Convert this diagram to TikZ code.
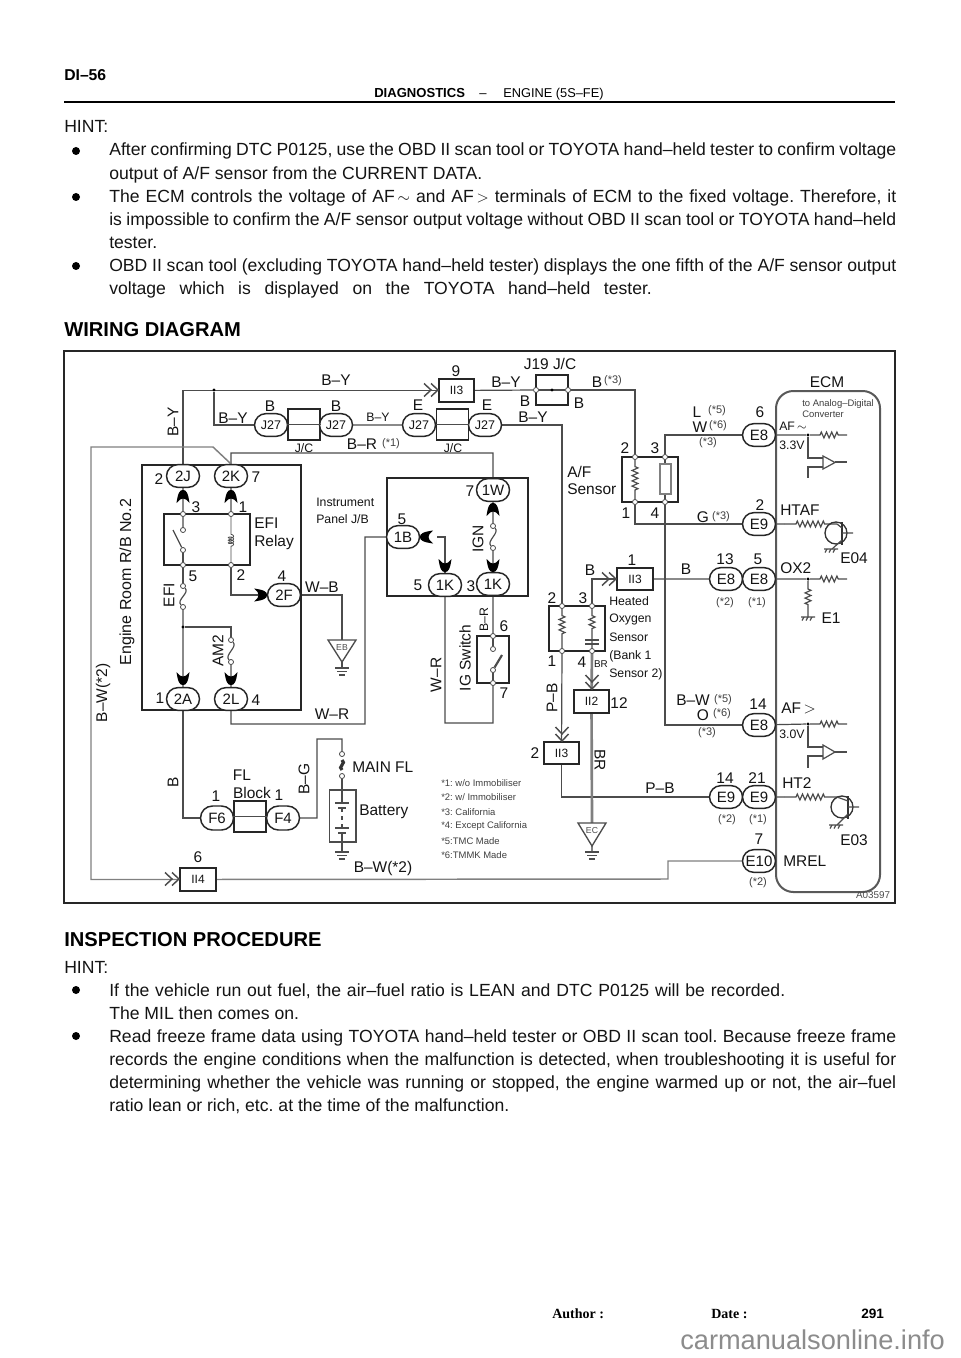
\documentclass[tikz,border=0pt]{standalone}
\usepackage{fontspec}
\setmainfont{Liberation Sans}
\newfontfamily\tms{Liberation Serif}
\usetikzlibrary{shapes.misc,decorations.pathmorphing,calc}
\pgfdeclarelayer{bg}
\pgfsetlayers{bg,main}
\definecolor{wg}{gray}{0.3}
\definecolor{gw}{gray}{0.5}
\definecolor{tx}{gray}{0.08}
\frenchspacing
\newcommand\fp[1]{\fontsize{#1}{#1}\selectfont}
\newcounter{lc}
\newcommand\lab[3][]{\stepcounter{lc}\node[lb,#1] (t\thelc) at (#2) {#3};}
\newcommand\bodyl[3][]{\stepcounter{lc}\node[bt,#1] (t\thelc) at (109,#2) {#3};}
\newcommand\bodyj[3]{\stepcounter{lc}\node[bt] (t\thelc) at (109,#1) {\makebox[#2][s]{#3}};}
\newcommand\blt[1]{\stepcounter{lc}\node[bullt] (t\thelc) at (76,#1) {};}
\newcommand\ctip[3]{\fill[black,shift={(#1,#2)},rotate=#3,line join=round] (0,-7) .. controls (3,-7) and (5,-5) .. (6.5,6) -- (3,2.5) -- (0,1.5) -- (-3,2.5) -- (-6.5,6) .. controls (-5,-5) and (-3,-7) .. (0,-7) -- cycle;}
\newcommand\chev[3]{\draw[chv,shift={(#1,#2)},rotate=#3] (-15,-6.5) -- (-8,0) -- (-15,6.5) (-8,-6.5) -- (-1,0) -- (-8,6.5);}
\newcommand\rake[2]{\draw[wire] ({#1-7},#2) -- ({#1+7},#2) ({#1-4},#2) -- ({#1-6},{#2+3.5}) (#1,#2) -- ({#1-2},{#2+3.5}) ({#1+4},#2) -- ({#1+2},{#2+3.5});}
\newcommand\gbars[2]{\draw[wire,line width=1pt] ({#1-7},#2) -- ({#1+7},#2) ({#1-5},{#2+3.5}) -- ({#1+5},{#2+3.5}) ({#1-3},{#2+7}) -- ({#1+3},{#2+7});}
\newcommand\fuse[2]{\draw[wire] (#1) .. controls ($(#1)+(7,7)$) and ($(#2)+(-7,-7)$) .. (#2);}
\tikzset{
  lb/.style={inner sep=0pt,text=tx,font=\fp{11.6}},
  sm/.style={font=\fp{8.25},text=black!75},
  tn/.style={font=\fp{9.2}},
  nt/.style={font=\fp{7.1},anchor=west,text=black!75},
  bt/.style={inner sep=0pt,anchor=base west,text=tx,font=\fp{13.2}},
  hd/.style={inner sep=0pt,anchor=base west,text=black,font=\fp{15.1}\bfseries},
  bullt/.style={circle,fill=black,inner sep=0pt,minimum size=6pt},
  wire/.style={draw=wg,line width=0.9pt},
  gwire/.style={draw=gw,line width=1.1pt},
  thw/.style={draw=gw,line width=2pt},
  bx/.style={draw=black!85,line width=1.3pt},
  pill/.style={rounded rectangle,draw=black!85,fill=white,line width=1.1pt,minimum width=24.75pt,minimum height=17pt,inner sep=0pt,text=tx,font=\fp{11.25}},
  pills/.style={pill,font=\fp{9.4}},
  ibox/.style={rectangle,draw=black!85,fill=white,line width=1.3pt,minimum width=26.5pt,minimum height=17pt,inner sep=0pt,text=tx,font=\fp{9}},
  jcb/.style={rectangle,draw=black!85,fill=white,line width=1.3pt,minimum width=24pt,minimum height=23.3pt,inner sep=0pt},
  term/.style={circle,draw=wg,fill=white,line width=0.6pt,minimum size=3.8pt,inner sep=0pt},
  jdot/.style={circle,fill=black,minimum size=2.6pt,inner sep=0pt},
  chv/.style={draw=wg,line width=1.1pt},
  zz/.style 2 args={decorate,decoration={zigzag,amplitude=2.2pt,segment length=3.9pt,pre=lineto,pre length=#1,post=lineto,post length=#2}},
  coilz/.style={decorate,decoration={coil,amplitude=2pt,segment length=2pt,aspect=0.5,pre=lineto,pre length=13pt,post=lineto,post length=11pt}},
}
\begin{document}
\begin{tikzpicture}[x=0.75pt,y=-0.75pt]
\useasboundingbox (0,0) rectangle (960,1358);
\begin{pgfonlayer}{bg}
\fill[white] (0,0) rectangle (960,1358);
\end{pgfonlayer}
% ---------- page text
\node[hd,font=\fp{11.8}\bfseries] (hdi) at (64,81) {DI–56};
\node[inner sep=0pt,anchor=base west,font=\fp{9.8}\bfseries] (hdiag) at (374,98) {DIAGNOSTICS};
\node[inner sep=0pt,anchor=base,font=\fp{9.8}] (hdash) at (483,98) {–};
\node[inner sep=0pt,anchor=base west,font=\fp{9.6}] (heng) at (503,98) {ENGINE (5S–FE)};
\draw[line width=1.1pt] (64,102) -- (895,102);
\node[bt] (hint1) at (64,133) {HINT:};
\blt{151}\bodyj{156}{590.25pt}{After confirming DTC P0125, use the OBD II scan tool or TOYOTA hand–held tester to confirm voltage}
\bodyl{179.1}{output of A/F sensor from the CURRENT DATA.}
\blt{197}\bodyj{202.2}{590.25pt}{The ECM controls the voltage of AF$\,\sim$ and AF$\,>$ terminals of ECM to the fixed voltage. Therefore, it}
\bodyj{225.3}{590.25pt}{is impossible to confirm the A/F sensor output voltage without OBD II scan tool or TOYOTA hand–held}
\bodyl{248.4}{tester.}
\blt{266}\bodyj{271.5}{590.25pt}{OBD II scan tool (excluding TOYOTA hand–held tester) displays the one fifth of the A/F sensor output}
\bodyj{294.6}{407pt}{voltage which is displayed on the TOYOTA hand–held tester.}
\node[hd] (hwd) at (64,337) {WIRING DIAGRAM};
\node[hd] (hinsp) at (64,946) {INSPECTION PROCEDURE};
\node[bt] (hint2) at (64,973) {HINT:};
\blt{990}\bodyj{996}{507pt}{If the vehicle run out fuel, the air–fuel ratio is LEAN and DTC P0125 will be recorded.}
\bodyl{1019}{The MIL then comes on.}
\blt{1036}\bodyj{1042}{590.25pt}{Read freeze frame data using TOYOTA hand–held tester or OBD II scan tool. Because freeze frame}
\bodyj{1065}{590.25pt}{records the engine conditions when the malfunction is detected, when troubleshooting it is useful for}
\bodyj{1088}{590.25pt}{determining whether the vehicle was running or stopped, the engine warmed up or not, the air–fuel}
\bodyl{1111}{ratio lean or rich, etc. at the time of the malfunction.}
\node[inner sep=0pt,anchor=base west,font=\tms\fp{10.5}\bfseries] (fa) at (552,1318) {Author :};
\node[inner sep=0pt,anchor=base west,font=\tms\fp{10.5}\bfseries] (fd) at (711,1318) {Date :};
\node[inner sep=0pt,anchor=base west,font=\fp{10.2}\bfseries] (fp) at (861,1318) {291};
\node[inner sep=0pt,anchor=base west,font=\fp{20.4},text=black!45] (wm) at (680,1349) {carmanualsonline.info};
% ---------- frames
\draw[line width=1.3pt,draw=black!85] (64,351) rectangle (895,903);
\draw[bx] (142,465) rectangle (301,710);
\draw[bx] (164,514) rectangle (250,565);
\draw[bx] (387,478) rectangle (528,596);
\draw[bx] (477,636) rectangle (509,683);
\draw[bx] (549,606) rectangle (605,651);
\draw[bx] (622,457) rectangle (678,502);
\draw[bx] (536,375) rectangle (568,405);
\draw[draw=black!65,line width=1.5pt,rounded corners=13pt] (776,391) rectangle (880,892);
% ---------- connectors (plugs)
\node[pills] (j27a) at (271,425) {J27};
\node[jcb] (jc1) at (304,424.5) {};
\node[pills] (j27b) at (336,425) {J27};
\node[pills] (j27c) at (419,425) {J27};
\node[jcb] (jc2) at (452.5,424.5) {};
\node[pills] (j27d) at (485,425) {J27};
\node[ibox] (ii3a) at (456.5,390.5) {II3};
\node[ibox] (ii3c) at (635,579) {II3};
\node[ibox] (ii3b) at (561.5,753) {II3};
\node[ibox] (ii2) at (591.5,701.5) {II2};
\node[ibox] (ii4) at (198,879.5) {II4};
\node[pill] (p2J) at (183,476) {2J};
\node[pill] (p2K) at (231,476) {2K};
\node[pill] (p2F) at (284,595) {2F};
\node[pill] (p2A) at (183,699) {2A};
\node[pill] (p2L) at (231,699) {2L};
\node[pill] (p1W) at (493,490) {1W};
\node[pill] (p1B) at (403,537) {1B};
\node[pill] (p1Kb) at (445,585) {1K};
\node[pill] (p1Ka) at (493,584) {1K};
\node[pill,minimum height=18pt] (pF6) at (217,818) {F6};
\node[jcb] (fl) at (250,816.5) {};
\node[pill,minimum height=18pt] (pF4) at (283,818) {F4};
\node[pill] (e8af) at (759,435) {E8};
\node[pill] (e9ht) at (759,524) {E9};
\node[pill] (e8o2) at (726,579) {E8};
\node[pill] (e8o1) at (759,579) {E8};
\node[pill] (e8ap) at (759,725) {E8};
\node[pill] (e9h2) at (726,797) {E9};
\node[pill] (e9h1) at (759,797) {E9};
\node[pill] (e10) at (759,861) {E10};
% ---------- terminals
\node[term] (r3) at (183,514) {};
\node[term] (r1) at (231,514) {};
\node[term] (r5) at (183,565) {};
\node[term] (r2) at (231,565) {};
\node[term] (sw1) at (183,530) {};
\node[term] (sw2) at (183,550) {};
\node[term] (fe1) at (183,586) {};
\node[term] (fe2) at (183,607) {};
\node[term] (fa1) at (231,640) {};
\node[term] (fa2) at (231,662) {};
\node[term] (fi1) at (493,526) {};
\node[term] (fi2) at (493,548) {};
\node[term] (ig6) at (493,636) {};
\node[term] (ig7) at (493,683) {};
\node[term] (ig1) at (493,649) {};
\node[term] (ig2) at (493,670) {};
\node[term] (h2) at (562,606) {};
\node[term] (h3) at (592,606) {};
\node[term] (h1) at (562,651) {};
\node[term] (h4) at (592,651) {};
\node[term] (a2) at (635,457) {};
\node[term] (a3) at (665,457) {};
\node[term] (a1) at (635,502) {};
\node[term] (a4) at (665,502) {};
\node[term] (jl) at (536,390) {};
\node[term] (jr) at (568,390) {};
\node[term] (mf1) at (342,754) {};
\node[term] (mf2) at (342,776) {};
\node[jdot] (jby) at (214,390) {};
\node[jdot] (jmid) at (552,390) {};
\node[jdot] (jam) at (183,627) {};
\node[jdot] (jaf) at (808,435) {};
\node[jdot] (jox) at (808,579) {};
\node[jdot] (jap) at (808,724) {};
% ---------- ground triangles
\coordinate (gEB) at (342,640);
\coordinate (gEC) at (592,823);
\coordinate (gEBb) at (342,668);
\coordinate (gECb) at (592,852);
\coordinate (batb) at (342,852);
\draw[wire,fill=white,line width=1pt] (328,640) -- (356,640) -- (342,662) -- cycle;
\draw[wire,fill=white,line width=1pt] (578,823) -- (606,823) -- (592,846) -- cycle;
\lab[font=\fp{6.5},text=black!70]{342,648}{EB}
\lab[font=\fp{6.5},text=black!70]{592,831}{EC}
\gbars{342}{668}\gbars{592}{852}\gbars{342}{852}
% ---------- wires
\begin{pgfonlayer}{bg}
\draw[wire] (p2J) |- (ii3a);
\draw[wire] (jby) |- (j27a);
\draw[wire] (j27a) -- (j27b) -- (j27c) -- (j27d);
\draw[wire] (j27d) -| (h2);
\draw[wire] (ii3a) -- (jl);
\draw[wire] (jl) -- (jr);
\draw[wire] (jr) -| (a2);
\draw[wire,zz={5pt}{5pt}] (a2) -- (a1);
\draw[wire] (a1) |- (e9ht);
\draw[wire] (a3) |- (e8af);
\draw[wire] (a3) -- (a4);
\draw[wire] (a4) |- (e8ap);
\draw[wire] (p2K) -- (231,453) -| (p1W);
\draw[gwire] (p2K.north) -- (213,447) -- (91,447) |- (ii4);
\draw[gwire] (ii4) -- (668,879) |- (e10);
\draw[wire] (p2J) -- (r3) -- (sw1);
\draw[wire] (sw2) -- (r5) -- (fe1);
\draw[wire] (p2K) -- (r1);
\draw[wire] (r2) |- (p2F);
\draw[wire] (p2F) -| (gEB);
\draw[wire] (gEB) -- (gEBb);
\draw[wire] (fe2) -- (p2A);
\draw[wire] (jam) -| (fa1);
\draw[wire] (fa2) -- (p2L);
\draw[wire] (p2L) -- (231,724) -| (365,537) -- (p1B);
\draw[wire] (p2A) |- (pF6);
\draw[wire] (pF6) -- (fl) -- (pF4);
\draw[wire] (pF4) -- (317,818) |- (342,739) -- (mf1);
\draw[wire] (mf2) -- (batb);
\draw[wire] (p1W) -- (fi1);
\draw[wire] (fi2) -- (p1Ka);
\draw[wire] (437,537) -| (p1Kb);
\draw[wire] (p1Ka) -- (ig6);
\draw[wire] (ig6) -- (ig1);
\draw[wire] (ig2) -- (ig7);
\draw[wire] (p1Kb) -- (445,723) -| (ig7);
\draw[wire,zz={5pt}{9pt}] (h2) -- (h1);
\draw[wire] (h1) -- (ii3b);
\draw[wire] (ii3b) |- (e9h2);
\draw[wire] (e9h2) -- (e9h1);
\draw[wire] (h3) |- (ii3c);
\draw[wire] (ii3c) -- (e8o2) -- (e8o1);
\draw[wire,zz={5pt}{13pt}] (h3) -- (h4);
\draw[thw] (h4) -- (ii2);
\draw[thw] (ii2) -- (gEC);
\draw[thw] (gEC) -- (gECb);
\draw[wire,zz={7.5pt}{5pt}] (jaf) -- (847,435);
\draw[wire] (e8af) -- (jaf);
\draw[wire] (jaf) -- (808,458) -- (823,458);
\draw[wire] (823,467) -- (808,467) -- (808,478);
\draw[wire] (835,462) -- (847,462);
\draw[wire,zz={9pt}{9pt}] (784,524) -- (837,524);
\draw[wire] (e9ht) -- (784,524);
\draw[wire] (e8o1) -- (jox);
\draw[wire,zz={7.5pt}{5pt}] (jox) -- (847,579);
\draw[wire,zz={6pt}{8pt}] (jox) -- (808,617);
\draw[wire] (e8ap) -- (jap);
\draw[wire,zz={7.5pt}{5pt}] (jap) -- (847,724);
\draw[wire] (jap) -- (808,747) -- (823,747);
\draw[wire] (823,756) -- (808,756) -- (808,768);
\draw[wire] (835,752) -- (847,752);
\draw[wire] (e9h1) -- (784,797);
\draw[wire,zz={9pt}{9pt}] (784,797) -- (837,797);
\end{pgfonlayer}
\draw[wire] (jc1.west) -- (jc1.east) (jc2.west) -- (jc2.east) (fl.west) -- (fl.east);
% ---------- relay, fuses, switches
\draw[wire] (sw2) -- (173,530);
\draw[wire,coilz,line width=0.6pt] (r1) -- (r2);
\fuse{fe1}{fe2}
\fuse{fa1}{fa2}
\fuse{fi1}{fi2}
\draw[line width=2.4pt,draw=black!80] (342,760) .. controls (347,763) and (337,767) .. (342,770);
\draw[wire,line width=1.6pt] (ig2) -- (502,655);
\draw[wire,line width=1pt] (585,640) -- (599,640) (585,644) -- (599,644);
\draw[gw,line width=1pt,fill=white] (660,464) rectangle (671,494);
% battery
\node[rectangle,draw=black!70,fill=white,line width=1pt,minimum width=20pt,minimum height=39pt,inner sep=0pt] (batt) at (342.5,816) {};
\draw[wire] (342,790) -- (342,803) (335,803) -- (349,803) (338,808) -- (346,808);
\draw[wire,dashed] (342,808) -- (342,828);
\draw[wire] (335,828) -- (349,828) (338,833) -- (346,833) (342,833) -- (342,842);
% tips & chevrons
\ctip{183}{497}{0}\ctip{231}{497}{0}
\ctip{260}{595}{-90}
\ctip{183}{678}{180}\ctip{231}{678}{180}
\ctip{493}{510}{0}\ctip{493}{565}{180}
\ctip{445}{565}{180}\ctip{427}{537}{90}
\chev{439}{390}{0}\chev{617}{579}{0}\chev{180}{879}{0}
\chev{562}{742}{-90}\chev{592}{690}{-90}
% ECM inner
\draw[wire,fill=white] (823,456) -- (823,469) -- (835,462.5) -- cycle;
\draw[wire,fill=white] (823,745) -- (823,759) -- (835,752) -- cycle;
\draw[draw=black!80,line width=1pt] (836,533) circle (11);
\draw[draw=black!80,line width=1.5pt] (842,522) -- (842,545);
\draw[wire] (837,524) -- (842,528) (842,533) -- (853,533) (842,540) -- (832,549);
\rake{831}{549}
\draw[draw=black!80,line width=1pt] (842,807) circle (11);
\draw[draw=black!80,line width=1.5pt] (848,796) -- (848,819);
\draw[wire] (837,797) -- (848,801) (848,807) -- (859,807) (848,814) -- (837,825);
\rake{836}{825}
\rake{808}{617}
% ---------- labels
\lab{336,380}{B–Y}
\lab[rotate=90]{173,422}{B–Y}
\lab{233,418}{B–Y}
\lab{270,406}{B}\lab{336,406}{B}
\lab[tn]{304,448}{J/C}
\lab[tn]{378,417}{B–Y}
\lab{418,405}{E}\lab{487,405}{E}
\lab{456,371}{9}
\lab{506,382}{B–Y}
\lab{550,364}{J19 J/C}
\lab{525,401}{B}\lab{579,403}{B}
\lab{533,417}{B–Y}
\lab{597,382}{B}\lab[sm]{613,381}{(*3)}
\lab{362,444}{B–R}\lab[sm]{391,444}{(*1)}
\lab[tn]{453,448}{J/C}
\lab[rotate=90]{103,693}{B–W(*2)}
\lab[rotate=90,font=\fp{12}]{127,582}{Engine Room R/B No.2}
\lab{159,479}{2}\lab{256,477}{7}
\lab{196,507}{3}\lab{243,507}{1}
\lab[anchor=west]{254,523}{EFI}\lab[anchor=west]{254,542}{Relay}
\lab{193,576}{5}\lab{241,575}{2}\lab{282,576}{4}
\lab[rotate=90]{169,595}{EFI}
\lab[rotate=90]{218,651}{AM2}
\lab{322,587}{W–B}
\lab{160,698}{1}\lab{256,700}{4}
\lab{332,714}{W–R}
\lab[rotate=90]{173,782}{B}
\lab{216,796}{1}\lab{279,795}{1}
\lab{242,775}{FL}\lab{252,793}{Block}
\lab[rotate=90]{304,779}{B–G}
\lab{198,857}{6}
\lab[anchor=west]{352,767}{MAIN FL}
\lab[anchor=west]{359,812}{Battery}
\lab{383,868}{B–W(*2)}
\lab[tn,anchor=west]{316,502}{Instrument}
\lab[tn,anchor=west]{316,519}{Panel J/B}
\lab{470,491}{7}\lab{402,519}{5}
\lab[rotate=90]{478,539}{IGN}
\lab{418,585}{5}\lab{471,586}{3}
\lab[rotate=90,tn]{484,620}{B–R}
\lab{504,626}{6}\lab{504,693}{7}
\lab[rotate=90]{465,658}{IG Switch}
\lab[rotate=90]{436,675}{W–R}
\lab{552,598}{2}\lab{583,598}{3}
\lab{552,661}{1}\lab{582,662}{4}
\lab[font=\fp{7.4}]{601,664}{BR}
\lab{619,703}{12}
\lab[rotate=90]{552,698}{P–B}
\lab{535,753}{2}
\lab[rotate=-90]{600,760}{BR}
\lab{590,570}{B}
\lab{632,560}{1}
\lab[tn,anchor=west]{609,601}{Heated}
\lab[tn,anchor=west]{609,619}{Oxygen}
\lab[tn,anchor=west]{609,637}{Sensor}
\lab[tn,anchor=west]{609,656}{(Bank 1}
\lab[tn,anchor=west]{609,674}{Sensor 2)}
\lab[nt]{441,783}{*1: w/o Immobiliser}
\lab[nt]{441,797.5}{*2: w/ Immobiliser}
\lab[nt]{441,812}{*3: California}
\lab[nt]{441,826}{*4: Except California}
\lab[nt]{441,841}{*5:TMC Made}
\lab[nt]{441,855}{*6:TMMK Made}
\lab[anchor=west]{567,472}{A/F}
\lab[anchor=west]{567,489}{Sensor}
\lab{625,448}{2}\lab{655,448}{3}
\lab{626,513}{1}\lab{655,513}{4}
\lab{697,412}{L}\lab[sm]{717,411}{(*5)}
\lab{700,427}{W}\lab[sm]{718,426}{(*6)}
\lab[sm]{708,443}{(*3)}
\lab{760,412}{6}
\lab{827,382}{ECM}
\lab[nt]{802,404}{to Analog–Digital}
\lab[nt]{802,414}{Converter}
\lab[tn,anchor=west]{779,426}{AF$\,\sim$}
\lab[tn,anchor=west]{779,445}{3.3V}
\lab{703,517}{G}\lab[sm]{721,517}{(*3)}
\lab{760,505}{2}
\lab[anchor=west]{780,510}{HTAF}
\lab{854,558}{E04}
\lab{686,569}{B}
\lab{725,559}{13}\lab{758,559}{5}
\lab[sm]{725,603}{(*2)}\lab[sm]{757,603}{(*1)}
\lab[anchor=west]{780,568}{OX2}
\lab{831,618}{E1}
\lab{693,700}{B–W}\lab[sm]{723,700}{(*5)}
\lab{703,715}{O}\lab[sm]{722,714}{(*6)}
\lab[sm]{707,733}{(*3)}
\lab{758,704}{14}
\lab[anchor=west]{781,708}{AF\,$>$}
\lab[tn,anchor=west]{779,734}{3.0V}
\lab{660,788}{P–B}
\lab{725,778}{14}\lab{757,778}{21}
\lab[sm]{727,820}{(*2)}\lab[sm]{758,820}{(*1)}
\lab[anchor=west]{782,783}{HT2}
\lab{854,840}{E03}
\lab{759,839}{7}
\lab[sm]{758,883}{(*2)}
\lab[anchor=west]{783,861}{MREL}
\lab[font=\fp{7.4},text=black!70]{873,895}{A03597}
\end{tikzpicture}
\end{document}
